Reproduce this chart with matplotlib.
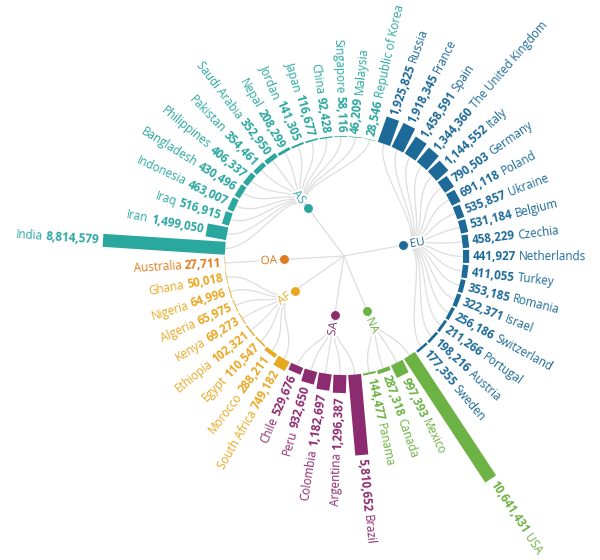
import numpy as np
import matplotlib
matplotlib.use("Agg")
import matplotlib.pyplot as plt
from matplotlib.patches import Rectangle
from matplotlib.font_manager import FontProperties
import matplotlib.patheffects as pe

# data, clockwise from the top
eu_names = ["Russia", "France", "Spain", "The United Kingdom", "Italy", "Germany",
            "Poland", "Ukraine", "Belgium", "Czechia", "Netherlands", "Turkey",
            "Romania", "Israel", "Switzerland", "Portugal", "Austria", "Sweden"]
eu_values = [1925825, 1918345, 1458591, 1344360, 1144552, 790503, 691118, 535857,
             531184, 458229, 441927, 411055, 353185, 322371, 256186, 211266,
             198216, 177355]
na_names = ["USA", "Mexico", "Canada", "Panama"]
na_values = [10641431, 997393, 287318, 144477]
sa_names = ["Brazil", "Argentina", "Colombia", "Peru", "Chile"]
sa_values = [5810652, 1296387, 1182697, 932650, 529676]
af_names = ["South Africa", "Morocco", "Egypt", "Ethiopia", "Kenya", "Algeria",
            "Nigeria", "Ghana"]
af_values = [749182, 288211, 110547, 102321, 69273, 65975, 64996, 50018]
oa_names = ["Australia"]
oa_values = [27711]
as_names = ["India", "Iran", "Iraq", "Indonesia", "Bangladesh", "Philippines",
            "Pakistan", "Saudi Arabia", "Nepal", "Jordan", "Japan", "China",
            "Singapore", "Malaysia", "Republic of Korea"]
as_values = [8814579, 1499050, 516915, 463007, 430496, 406337, 354461, 352950,
             208299, 141305, 116677, 92428, 58116, 46209, 28546]

groups = [
    ("EU", eu_names, eu_values, "#1d6a98"),
    ("NA", na_names, na_values, "#6db244"),
    ("SA", sa_names, sa_values, "#8c2b6f"),
    ("AF", af_names, af_values, "#e9a822"),
    ("OA", oa_names, oa_values, "#e07a1e"),
    ("AS", as_names, as_values, "#2aa79f"),
]

# layout
n_leaves = sum(len(g[1]) for g in groups)
step = 360.0 / n_leaves
start_angle = 19.6      # degrees clockwise from the top
r_leaf = 119.0          # inner radius of the bars (px)
r_node = 60.0           # continent nodes
px_per_unit = 13.9e-6   # bar length per case
bar_w = 13.0
pad = 3.5
link_col = "#dedede"

plt.rcParams["font.family"] = ["Open Sans", "DejaVu Sans"]
fs = 8.4

fig = plt.figure(figsize=(6, 5.6), dpi=100)
ax = fig.add_axes([0, 0, 1, 1])
ax.set_xlim(-344, 256)
ax.set_ylim(-304, 256)
ax.axis("off")
renderer = fig.canvas.get_renderer()


def unit(a):
    t = np.radians(a)
    return np.array([np.sin(t), np.cos(t)])


def text_width(s, fp):
    w, h, d = renderer.get_text_width_height_descent(s, fp, ismath=False)
    return w


def radial_label(a, r, parts, color):
    """parts: list of (text, weight) read outward from radius r"""
    right = (a % 360) < 180
    rot = 90 - a if right else 270 - a
    ha = "left" if right else "right"
    pos = r
    for s, wt in parts:
        fp = FontProperties(family=["Open Sans", "DejaVu Sans"], weight=wt, size=fs)
        p = pos * unit(a)
        ax.text(p[0], p[1], s, rotation=rot, rotation_mode="anchor", ha=ha,
                va="center", color=color, fontproperties=fp, zorder=5)
        pos += text_width(s, fp) + 3.2


idx = 0
for code, names, values, col in groups:
    angles = [start_angle + (idx + k) * step for k in range(len(names))]
    idx += len(names)
    a_c = np.mean(angles)
    node = r_node * unit(a_c)

    # root -> continent
    ax.plot([0, node[0]], [0, node[1]], color=link_col, lw=0.9, zorder=1)

    # continent -> leaves (radial bump curves)
    tt = np.linspace(0, 1, 60)[:, None]
    rm = (r_node + r_leaf) / 2
    for a in angles:
        p0, p1 = node, rm * unit(a_c)
        p2, p3 = rm * unit(a), r_leaf * unit(a)
        curve = ((1 - tt) ** 3) * p0 + 3 * ((1 - tt) ** 2) * tt * p1 \
            + 3 * (1 - tt) * tt ** 2 * p2 + tt ** 3 * p3
        ax.plot(curve[:, 0], curve[:, 1], color=link_col, lw=0.9, zorder=1)

    # bars + labels
    for a, name, v in zip(angles, names, values):
        L = v * px_per_unit
        u = unit(a)
        nrm = np.array([np.cos(np.radians(a)), -np.sin(np.radians(a))])
        xy = r_leaf * u + nrm * bar_w / 2
        ax.add_patch(Rectangle(xy, L, bar_w, angle=90 - a, rotation_point="xy",
                               facecolor=col, edgecolor="none", zorder=3))
        radial_label(a, r_leaf + L + pad, [(f"{v:,}", "bold"), (name, "normal")], col)

    # continent node and label
    ax.plot(node[0], node[1], "o", ms=5.4, color=col, zorder=4)
    right = (a_c % 360) < 180
    lp = (r_node + 7) * unit(a_c)
    ax.text(lp[0], lp[1], code, rotation=(90 - a_c) if right else (270 - a_c),
            rotation_mode="anchor", ha="left" if right else "right", va="center",
            color=col, fontsize=fs, zorder=4,
            path_effects=[pe.withStroke(linewidth=3, foreground="white")])

fig.savefig("out.png", dpi=100)
